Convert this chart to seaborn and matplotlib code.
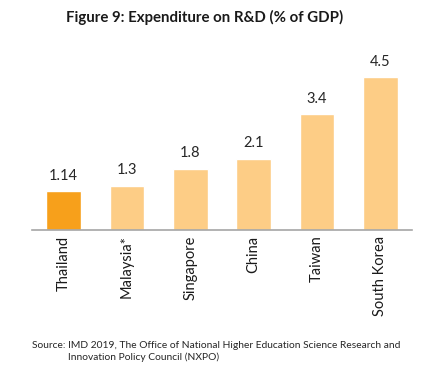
import matplotlib
matplotlib.use("Agg")
import matplotlib.pyplot as plt
import seaborn as sns
import pandas as pd

countries = ["Thailand", "Malaysia*", "Singapore", "China", "Taiwan", "South Korea"]
values = [1.14, 1.3, 1.8, 2.1, 3.4, 4.5]
value_labels = ["1.14", "1.3", "1.8", "2.1", "3.4", "4.5"]
highlight = "Thailand"

sns.set_theme(style="white")
plt.rcParams["font.family"] = ["Lato", "DejaVu Sans"]

df = pd.DataFrame({"country": countries, "value": values})
colors = ["#F7A01B" if c == highlight else "#FDCD86" for c in countries]

fig = plt.figure(figsize=(4.35, 3.75), dpi=100)
ax = fig.add_axes([32/435, 145/375, 380/435, 170/375])
sns.barplot(data=df, x="country", y="value", hue="country", palette=colors,
            legend=False, width=0.55, ax=ax, saturation=1)
ax.set_ylim(0, 5)
ax.set_xlim(-0.5, len(countries) - 0.5)
for s in ["top", "right", "left"]:
    ax.spines[s].set_visible(False)
ax.spines["bottom"].set_color("#A6A6A6")
ax.spines["bottom"].set_linewidth(1.2)
ax.set_yticks([])
ax.set_xlabel("")
ax.set_ylabel("")
ax.tick_params(axis="x", length=0, pad=4, labelsize=10.5, labelcolor="#1a1a1a")
plt.setp(ax.get_xticklabels(), rotation=90, va="top", ha="center")

for i, (v, lab) in enumerate(zip(values, value_labels)):
    ax.annotate(lab, (i, v), xytext=(0, 6), textcoords="offset points",
                ha="center", va="bottom", fontsize=10.5, color="#262626")

fig.text(66/435, 1 - 17/375, "Figure 9: Expenditure on R&D (% of GDP)",
         ha="left", va="center", fontsize=10.8, fontweight="bold", color="#1a1a1a")
fig.text(32/435, 1 - 345/375, "Source: IMD 2019, The Office of National Higher Education Science Research and",
         ha="left", va="center", fontsize=7.4, color="#262626")
fig.text(68/435, 1 - 357/375, "Innovation Policy Council (NXPO)",
         ha="left", va="center", fontsize=7.4, color="#262626")

fig.savefig("out.png", dpi=100)
